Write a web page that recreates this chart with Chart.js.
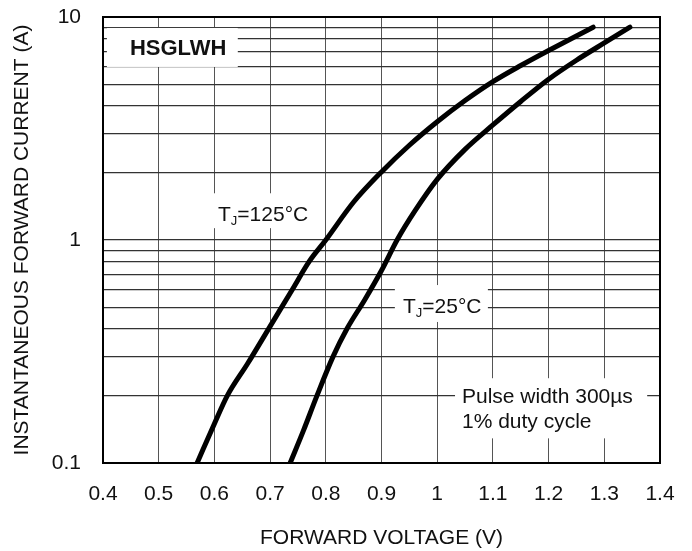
<!DOCTYPE html>
<html>
<head>
<meta charset="utf-8">
<script src="https://cdn.jsdelivr.net/npm/chart.js@4/dist/chart.umd.min.js"></script>
<style>
  body { margin: 0; background: #fff; }
  #wrap { width: 692px; height: 551px; }
</style>
</head>
<body>
<div id="wrap"><canvas id="ivChart"></canvas></div>
<script>
// Tj = 125°C curve, forward voltage (V) vs current (A)
const voltage125 = [0.569, 0.6, 0.623, 0.66, 0.7, 0.74, 0.77, 0.8, 0.85, 0.9, 0.95, 1.0, 1.05, 1.1, 1.15, 1.2, 1.28];
const current125 = [0.1, 0.15, 0.2, 0.28, 0.41, 0.6, 0.8, 1.0, 1.48, 2.02, 2.66, 3.39, 4.22, 5.13, 6.06, 7.08, 9.0];

// Tj = 25°C curve
const voltage25 = [0.736, 0.76, 0.784, 0.813, 0.838, 0.87, 0.9, 0.928, 0.96, 1.0, 1.05, 1.1, 1.15, 1.2, 1.25, 1.3, 1.346];
const current25 = [0.1, 0.14, 0.2, 0.3, 0.4, 0.54, 0.73, 1.0, 1.35, 1.87, 2.55, 3.28, 4.18, 5.26, 6.4, 7.65, 9.0];

// Axis ticks
const xTicks = [0.4, 0.5, 0.6, 0.7, 0.8, 0.9, 1.0, 1.1, 1.2, 1.3, 1.4];
const yGrid = [0.1, 0.2, 0.3, 0.4, 0.5, 0.6, 0.7, 0.8, 0.9, 1, 2, 3, 4, 5, 6, 7, 8, 9, 10];
const yLabels = [0.1, 1, 10];

const FONT = "'Liberation Sans', Arial, sans-serif";
Chart.defaults.font.family = FONT;
Chart.defaults.color = '#111';

// text notes on the plot, placed in data units, with a white box behind
const notes = [
    { box: [0.407, 0.642, 8.93, 5.97], x: 0.535, y: [7.19], align: 'center', bold: true, size: 22,
      lines: [[{ t: 'HSGLWH' }]] },
    { box: [0.585, 0.782, 1.62, 1.13], x: 0.6065, y: [1.29], align: 'left', size: 21,
      lines: [[{ t: 'T' }, { t: 'J', sub: true }, { t: '=125°C' }]] },
    { box: [0.924, 1.091, 0.628, 0.429], x: 0.9386, y: [0.5], align: 'left', size: 21,
      lines: [[{ t: 'T' }, { t: 'J', sub: true }, { t: '=25°C' }]] },
    { box: [1.032, 1.377, 0.240, 0.129], x: 1.0445, y: [0.198, 0.153], align: 'left', size: 21,
      lines: [[{ t: 'Pulse width 300µs' }], [{ t: '1% duty cycle' }]] }
];

const notesPlugin = {
    id: 'notes',
    beforeDatasetsDraw(chart) {
        const { ctx, scales: { x, y }, chartArea } = chart;
        ctx.save();
        notes.forEach(n => {
            const x1 = x.getPixelForValue(n.box[0]);
            const x2 = x.getPixelForValue(n.box[1]);
            const y1 = y.getPixelForValue(n.box[2]);
            const y2 = y.getPixelForValue(n.box[3]);
            ctx.fillStyle = '#fff';
            ctx.fillRect(x1, y1, x2 - x1, y2 - y1);

            ctx.fillStyle = '#111';
            ctx.textBaseline = 'middle';
            ctx.textAlign = 'left';
            n.lines.forEach((parts, i) => {
                const py = y.getPixelForValue(n.y[i]);
                const mainFont = (n.bold ? 'bold ' : '') + n.size + 'px ' + FONT;
                const subFont = Math.round(n.size * 0.62) + 'px ' + FONT;
                let w = 0;
                parts.forEach(p => {
                    ctx.font = p.sub ? subFont : mainFont;
                    w += ctx.measureText(p.t).width;
                });
                let px = x.getPixelForValue(n.x);
                if (n.align === 'center') px -= w / 2;
                parts.forEach(p => {
                    ctx.font = p.sub ? subFont : mainFont;
                    ctx.fillText(p.t, px, p.sub ? py + 6 : py);
                    px += ctx.measureText(p.t).width;
                });
            });
        });

        // frame around plot
        ctx.strokeStyle = '#000';
        ctx.lineWidth = 2;
        ctx.strokeRect(chartArea.left, chartArea.top, chartArea.right - chartArea.left, chartArea.bottom - chartArea.top);
        ctx.restore();
    }
};

function toPoints(xs, ys) {
    return xs.map((v, i) => ({ x: v, y: ys[i] }));
}

const ctx = document.getElementById('ivChart').getContext('2d');

new Chart(ctx, {
    type: 'line',
    data: {
        datasets: [
            {
                label: 'TJ=125°C',
                data: toPoints(voltage125, current125),
                borderColor: '#000',
                borderWidth: 5,
                borderCapStyle: 'round',
                pointRadius: 0,
                cubicInterpolationMode: 'monotone'
            },
            {
                label: 'TJ=25°C',
                data: toPoints(voltage25, current25),
                borderColor: '#000',
                borderWidth: 5,
                borderCapStyle: 'round',
                pointRadius: 0,
                cubicInterpolationMode: 'monotone'
            }
        ]
    },
    options: {
        responsive: true,
        maintainAspectRatio: false,
        animation: false,
        layout: { padding: { top: 17, right: 32, left: 0, bottom: 0 } },
        plugins: {
            legend: { display: false },
            tooltip: { enabled: false }
        },
        scales: {
            x: {
                type: 'linear',
                min: 0.4,
                max: 1.4,
                afterBuildTicks: scale => { scale.ticks = xTicks.map(v => ({ value: v })); },
                afterFit: scale => {
                    scale.height = 88;
                    scale.paddingLeft = 0;
                    scale.paddingRight = 0;
                },
                grid: { color: '#555', lineWidth: 1, drawTicks: false },
                border: { display: false },
                ticks: {
                    padding: 19,
                    font: { size: 21 },
                    color: '#111',
                    maxRotation: 0,
                    autoSkip: false,
                    callback: v => String(Number(v.toFixed(1)))
                },
                title: {
                    display: true,
                    text: 'FORWARD VOLTAGE (V)',
                    font: { size: 21 },
                    color: '#111',
                    padding: { top: 0, bottom: 0 }
                }
            },
            y: {
                type: 'logarithmic',
                min: 0.1,
                max: 10,
                afterBuildTicks: scale => { scale.ticks = yGrid.map(v => ({ value: v })); },
                afterFit: scale => {
                    scale.width = 103;
                    scale.paddingTop = 0;
                    scale.paddingBottom = 0;
                },
                grid: { color: '#333', lineWidth: 1.2, drawTicks: false },
                border: { display: false },
                ticks: {
                    padding: 22,
                    font: { size: 21 },
                    color: '#111',
                    autoSkip: false,
                    callback: v => yLabels.includes(v) ? String(v) : ''
                },
                title: {
                    display: true,
                    text: 'INSTANTANEOUS FORWARD CURRENT (A)',
                    font: { size: 21 },
                    color: '#111',
                    padding: { top: 10, bottom: 0 }
                }
            }
        }
    },
    plugins: [notesPlugin]
});
</script>
</body>
</html>
